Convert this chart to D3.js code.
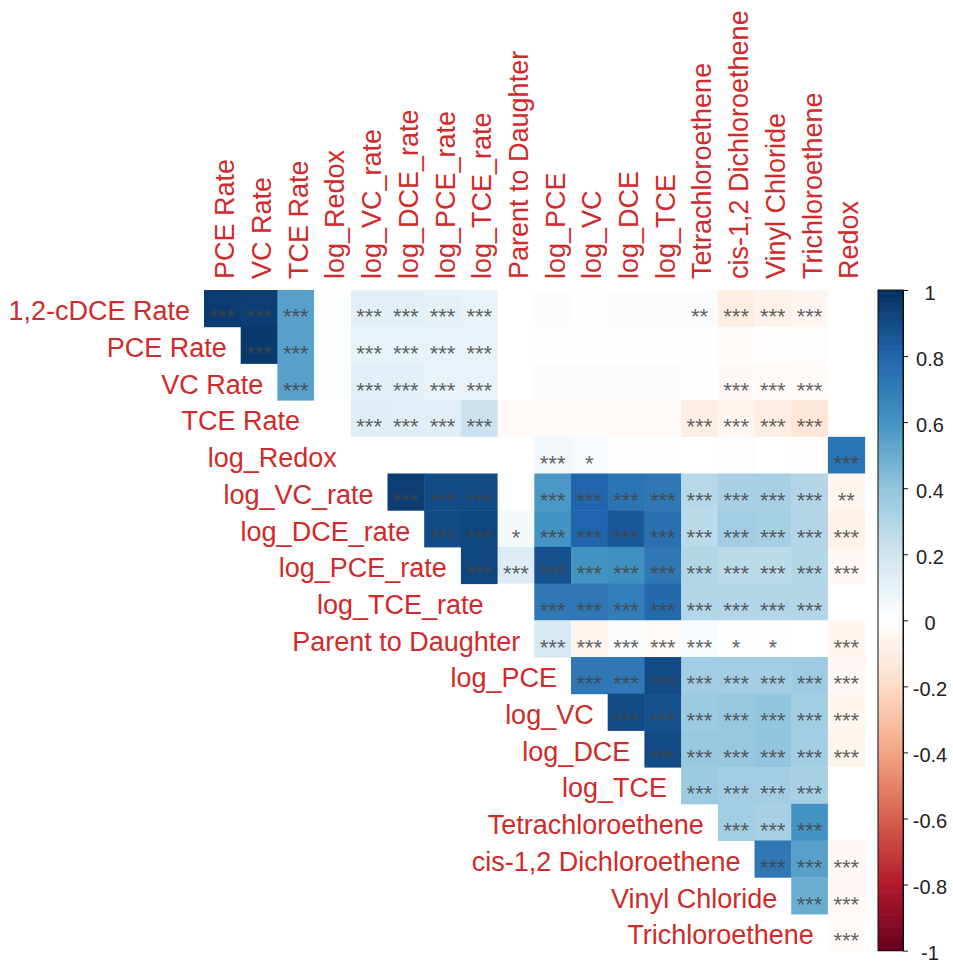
<!DOCTYPE html>
<html>
<head>
<meta charset="utf-8">
<script src="https://cdn.jsdelivr.net/npm/d3@7"></script>
<style>
  html, body { margin: 0; padding: 0; background: #ffffff; }
  svg { display: block; font-family: "Liberation Sans", Arial, sans-serif; }
</style>
</head>
<body>
<svg id="chart" width="953" height="964"></svg>
<script>
// Variables along the rows (left labels) and columns (top labels)
const rowVars = ["1,2-cDCE Rate", "PCE Rate", "VC Rate", "TCE Rate", "log_Redox",
  "log_VC_rate", "log_DCE_rate", "log_PCE_rate", "log_TCE_rate", "Parent to Daughter",
  "log_PCE", "log_VC", "log_DCE", "log_TCE", "Tetrachloroethene",
  "cis-1,2 Dichloroethene", "Vinyl Chloride", "Trichloroethene"];
const colVars = ["PCE Rate", "VC Rate", "TCE Rate", "log_Redox", "log_VC_rate",
  "log_DCE_rate", "log_PCE_rate", "log_TCE_rate", "Parent to Daughter", "log_PCE",
  "log_VC", "log_DCE", "log_TCE", "Tetrachloroethene", "cis-1,2 Dichloroethene",
  "Vinyl Chloride", "Trichloroethene", "Redox"];

// Correlation coefficients, upper triangle: row i starts at column i
const rCdceRate   = [0.96, 0.95, 0.55, 0.01, 0.12, 0.12, 0.11, 0.10, 0.00, 0.02, 0.01, 0.02, 0.02, 0.02, -0.10, -0.07, -0.05, 0.00];
const rPceRate    = [0.97, 0.55, 0.01, 0.10, 0.10, 0.10, 0.10, 0.00, 0.01, 0.01, 0.01, 0.01, 0.01, -0.02, -0.01, -0.01, 0.00];
const rVcRate     = [0.55, 0.01, 0.12, 0.12, 0.10, 0.10, 0.00, 0.02, 0.02, 0.02, 0.02, 0.01, -0.04, -0.03, -0.02, 0.00];
const rTceRate    = [0.00, 0.14, 0.13, 0.13, 0.22, -0.03, -0.02, -0.02, -0.03, -0.03, -0.10, -0.05, -0.10, -0.14, 0.00];
const rLogRedox   = [0.00, 0.00, 0.00, 0.00, 0.00, 0.06, 0.04, 0.01, 0.01, 0.00, -0.01, 0.00, -0.01, 0.74];
const rLogVcRate  = [0.95, 0.90, 0.90, 0.00, 0.58, 0.80, 0.74, 0.72, 0.28, 0.33, 0.33, 0.30, -0.05];
const rLogDceRate = [0.90, 0.92, 0.05, 0.60, 0.80, 0.85, 0.75, 0.27, 0.35, 0.34, 0.30, -0.07];
const rLogPceRate = [0.92, 0.15, 0.88, 0.60, 0.62, 0.72, 0.30, 0.27, 0.27, 0.30, -0.04];
const rLogTceRate = [0.00, 0.72, 0.72, 0.70, 0.78, 0.30, 0.30, 0.30, 0.30, 0.00];
const rParentDau  = [0.18, -0.06, 0.02, -0.03, 0.03, 0.01, 0.01, 0.00, -0.05];
const rLogPce     = [0.72, 0.72, 0.90, 0.35, 0.35, 0.35, 0.36, -0.04];
const rLogVc      = [0.90, 0.88, 0.37, 0.38, 0.40, 0.35, -0.05];
const rLogDce     = [0.90, 0.38, 0.38, 0.40, 0.35, -0.06];
const rLogTce     = [0.37, 0.35, 0.35, 0.33, 0.00];
const rTetra      = [0.35, 0.33, 0.60, 0.00];
const rCisDce     = [0.72, 0.55, -0.04];
const rVinylCl    = [0.50, -0.04];
const rTrichloro  = [-0.03];

// Significance marks for the same cells
const sCdceRate   = ["***","***","***","","***","***","***","***","","","","","","**","***","***","***",""];
const sPceRate    = ["***","***","","***","***","***","***","","","","","","","","","",""];
const sVcRate     = ["***","","***","***","***","***","","","","","","","***","***","***",""];
const sTceRate    = ["","***","***","***","***","","","","","","***","***","***","***",""];
const sLogRedox   = ["","","","","","***","*","","","","","","","***"];
const sLogVcRate  = ["***","***","***","","***","***","***","***","***","***","***","***","**"];
const sLogDceRate = ["***","***","*","***","***","***","***","***","***","***","***","***"];
const sLogPceRate = ["***","***","***","***","***","***","***","***","***","***","***"];
const sLogTceRate = ["","***","***","***","***","***","***","***","***",""];
const sParentDau  = ["***","***","***","***","***","*","*","","***"];
const sLogPce     = ["***","***","***","***","***","***","***","***"];
const sLogVc      = ["***","***","***","***","***","***","***"];
const sLogDce     = ["***","***","***","***","***","***"];
const sLogTce     = ["***","***","***","***",""];
const sTetra      = ["***","***","***",""];
const sCisDce     = ["***","***","***"];
const sVinylCl    = ["***","***"];
const sTrichloro  = ["***"];

const legendTicks = [1, 0.8, 0.6, 0.4, 0.2, 0, -0.2, -0.4, -0.6, -0.8, -1];

// RdBu diverging palette, -1 .. 1
const palette = ["#67001F", "#B2182B", "#D6604D", "#F4A582", "#FDDBC7", "#FFFFFF",
                 "#D1E5F0", "#92C5DE", "#4393C3", "#2166AC", "#053061"];

const corrRows = [rCdceRate, rPceRate, rVcRate, rTceRate, rLogRedox, rLogVcRate, rLogDceRate,
  rLogPceRate, rLogTceRate, rParentDau, rLogPce, rLogVc, rLogDce, rLogTce, rTetra, rCisDce,
  rVinylCl, rTrichloro];
const sigRows = [sCdceRate, sPceRate, sVcRate, sTceRate, sLogRedox, sLogVcRate, sLogDceRate,
  sLogPceRate, sLogTceRate, sParentDau, sLogPce, sLogVc, sLogDce, sLogTce, sTetra, sCisDce,
  sVinylCl, sTrichloro];

const cells = [];
corrRows.forEach((vals, i) => {
  vals.forEach((v, k) => {
    cells.push({ row: rowVars[i], col: colVars[i + k], value: v, sig: sigRows[i][k] });
  });
});

const svg = d3.select("#chart");
const gridLeft = 204, gridTop = 290, cell = 36.7;
const n = colVars.length;

const x = d3.scaleBand().domain(colVars).range([gridLeft, gridLeft + n * cell]);
const y = d3.scaleBand().domain(rowVars).range([gridTop, gridTop + n * cell]);
const color = d3.scaleLinear()
  .domain(d3.range(palette.length).map(i => -1 + i * 0.2))
  .range(palette)
  .interpolate(d3.interpolateRgb);

const labelColor = "#d02a2a";

// Heat-map cells
svg.append("g").selectAll("rect")
  .data(cells)
  .join("rect")
  .attr("x", d => x(d.col))
  .attr("y", d => y(d.row))
  .attr("width", x.bandwidth() + 0.5)
  .attr("height", y.bandwidth() + 0.5)
  .attr("fill", d => color(d.value));

// Significance stars
svg.append("g").selectAll("text")
  .data(cells.filter(d => d.sig))
  .join("text")
  .attr("x", d => x(d.col) + x.bandwidth() / 2)
  .attr("y", d => y(d.row) + y.bandwidth() / 2 + 16)
  .attr("text-anchor", "middle")
  .attr("font-size", 22)
  .attr("fill", "#444")
  .attr("fill-opacity", 0.85)
  .text(d => d.sig);

// Row labels, placed at the diagonal of each row
svg.append("g").selectAll("text")
  .data(rowVars)
  .join("text")
  .attr("x", (d, i) => gridLeft + i * cell - 14)
  .attr("y", d => y(d) + y.bandwidth() / 2 + 3)
  .attr("text-anchor", "end")
  .attr("dominant-baseline", "central")
  .attr("font-size", 27)
  .attr("fill", labelColor)
  .text(d => d);

// Column labels, vertical
svg.append("g").selectAll("text")
  .data(colVars)
  .join("text")
  .attr("transform", d => `translate(${x(d) + x.bandwidth() / 2 + 3},${gridTop - 11}) rotate(-90)`)
  .attr("text-anchor", "start")
  .attr("dominant-baseline", "central")
  .attr("font-size", 27)
  .attr("fill", labelColor)
  .text(d => d);

// Colour legend
const barX = 878, barW = 25;
const yBar = d3.scaleLinear().domain([-1, 1]).range([gridTop + n * cell, gridTop]);
const steps = d3.range(200).map(i => -1 + (i + 0.5) * 0.01);
const legend = svg.append("g");
legend.selectAll("rect")
  .data(steps)
  .join("rect")
  .attr("x", barX)
  .attr("y", d => yBar(d + 0.005))
  .attr("width", barW)
  .attr("height", yBar(-1) - yBar(-0.99) + 0.6)
  .attr("fill", d => color(d));
legend.append("rect")
  .attr("x", barX)
  .attr("y", yBar(1))
  .attr("width", barW)
  .attr("height", yBar(-1) - yBar(1))
  .attr("fill", "none")
  .attr("stroke", "#111")
  .attr("stroke-width", 1);

const axis = d3.axisRight(yBar)
  .tickValues(legendTicks)
  .tickSize(5)
  .tickSizeOuter(0)
  .tickFormat(d => String(+d.toFixed(1)));
const axisG = legend.append("g")
  .attr("transform", `translate(${barX + barW},0)`)
  .call(axis);
axisG.select(".domain").attr("stroke", "#111");
axisG.selectAll(".tick line").attr("stroke", "#111");
axisG.selectAll(".tick text")
  .attr("x", 27)
  .attr("dy", "0.45em")
  .attr("text-anchor", "middle")
  .attr("font-size", 20)
  .attr("font-family", "'Liberation Sans', Arial, sans-serif")
  .attr("fill", "#222");
</script>
</body>
</html>
